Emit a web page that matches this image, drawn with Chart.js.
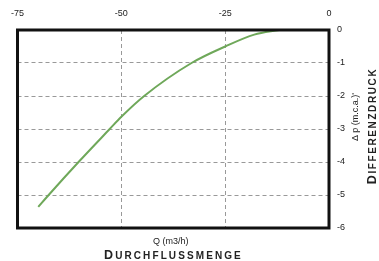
<!DOCTYPE html>
<html>
<head>
<meta charset="utf-8">
<script src="https://cdn.jsdelivr.net/npm/chart.js@4/dist/chart.umd.min.js"></script>
<style>
  body { margin: 0; background: #fff; }
  #wrap { position: relative; width: 379px; height: 261px; font-family: "Liberation Sans", Arial, sans-serif; color: #222; }
  #chart { position: absolute; left: 0; top: 0; }
  .lbl { position: absolute; white-space: nowrap; line-height: 1; }
  .sc { font-weight: bold; font-size: 10px; letter-spacing: 1.6px; }
  .sc b { font-size: 12.5px; }
  .rot { transform-origin: center center; transform: translate(-50%, -50%) rotate(-90deg); }
</style>
</head>
<body>
<div id="wrap">
  <canvas id="chart" width="379" height="261"></canvas>
  <div class="lbl" style="left:153px;top:237px;font-size:9px;">Q (m3/h)</div>
  <div class="lbl sc" style="left:104px;top:249px;letter-spacing:2.1px;"><b>D</b>URCHFLUSSMENGE</div>
  <div class="lbl rot" style="left:355px;top:117px;font-size:9px;">Δ p (m.c.a.)'</div>
  <div class="lbl sc rot" style="left:372px;top:126px;"><b>D</b>IFFERENZDRUCK</div>
</div>
<script>
// Q (m3/h) und Differenzdruck (m.c.a.)
var flow = [-70, -67.5, -60.3, -52.8, -50, -44.5, -33.1, -25, -18, -12]
var pressure = [-5.36, -5, -4, -3, -2.63, -2, -1, -0.5, -0.14, 0]
var xTicks = [-75, -50, -25, 0]
var yTicks = [0, -1, -2, -3, -4, -5, -6]

var points = flow.map(function(q, i) { return { x: q, y: pressure[i] } })

// dicker schwarzer Rahmen um die Zeichenfläche
var frame = {
  id: 'frame',
  afterDatasetsDraw: function(chart) {
    var a = chart.chartArea, ctx = chart.ctx
    ctx.save()
    ctx.strokeStyle = '#111'
    ctx.lineWidth = 3
    ctx.strokeRect(a.left, a.top, a.right - a.left, a.bottom - a.top)
    ctx.restore()
  }
}

new Chart(document.getElementById('chart'), {
  type: 'scatter',
  data: {
    datasets: [{
      data: points,
      showLine: true,
      borderColor: '#6fa85a',
      borderWidth: 2,
      pointRadius: 0,
      cubicInterpolationMode: 'monotone'
    }]
  },
  options: {
    responsive: false,
    animation: false,
    layout: { padding: { left: 17, bottom: 33, top: 0, right: 0 } },
    plugins: { legend: { display: false }, tooltip: { enabled: false } },
    scales: {
      x: {
        type: 'linear',
        position: 'top',
        min: -75,
        max: 0,
        afterBuildTicks: function(s) { s.ticks = xTicks.map(function(v) { return { value: v } }) },
        afterFit: function(s) { s.height = 30 },
        ticks: { color: '#222', font: { size: 9, family: 'Liberation Sans' }, padding: 11 },
        grid: { color: '#999', drawTicks: false, lineWidth: 1 },
        border: { display: false, dash: [4, 3] }
      },
      y: {
        type: 'linear',
        position: 'right',
        min: -6,
        max: 0,
        afterBuildTicks: function(s) { s.ticks = yTicks.map(function(v) { return { value: v } }) },
        afterFit: function(s) { s.width = 50 },
        ticks: { color: '#222', font: { size: 9, family: 'Liberation Sans' }, padding: 8 },
        grid: { color: '#999', drawTicks: false, lineWidth: 1 },
        border: { display: false, dash: [4, 3] }
      }
    }
  },
  plugins: [frame]
})
</script>
</body>
</html>
